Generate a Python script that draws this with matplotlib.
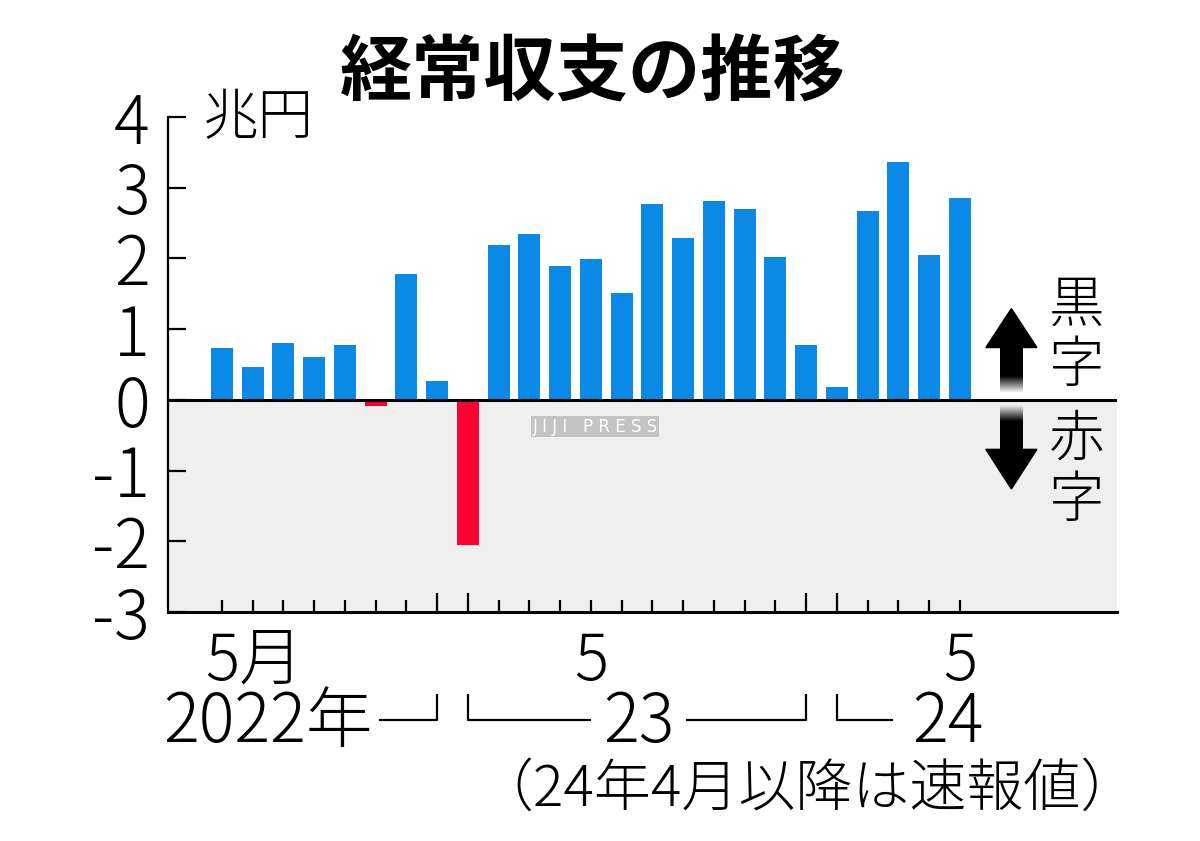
import numpy as np
import matplotlib
matplotlib.use("Agg")
import matplotlib.pyplot as plt
import matplotlib.transforms as mtransforms
from matplotlib.patches import Polygon

plt.rcParams['font.family'] = ['Noto Sans CJK JP', 'DejaVu Sans']

# ---- data (trillion yen), May 2022 .. May 2024 ----
months = ["2022-05", "2022-06", "2022-07", "2022-08", "2022-09", "2022-10", "2022-11", "2022-12",
          "2023-01", "2023-02", "2023-03", "2023-04", "2023-05", "2023-06", "2023-07", "2023-08",
          "2023-09", "2023-10", "2023-11", "2023-12", "2024-01", "2024-02", "2024-03", "2024-04",
          "2024-05"]
values = [0.74, 0.47, 0.81, 0.61, 0.78, -0.08, 1.78, 0.27,
          -2.05, 2.19, 2.35, 1.90, 1.99, 1.51, 2.77, 2.29,
          2.81, 2.70, 2.02, 0.78, 0.18, 2.67, 3.37, 2.05,
          2.85]
yticks = [-3, -2, -1, 0, 1, 2, 3, 4]
ytick_labels = ["-3", "-2", "-1", "0", "1", "2", "3", "4"]
month_label_idx = [0, 12, 24]
month_labels = ["5月", "5", "5"]
title = "経常収支の推移"
unit = "兆円"
note = "（24年4月以降は速報値）"

BLUE = "#0a89e6"
RED = "#ff0030"
GREY = "#efefef"

fig = plt.figure(figsize=(12, 8.41), dpi=100)
ax = fig.add_axes([168/1200, 1-612/841, (1117-168)/1200, (612-117)/841])

x = np.arange(len(values))
colors = [BLUE if v >= 0 else RED for v in values]
ax.bar(x, values, width=0.715, color=colors, zorder=3)

ax.set_xlim(-1.756, 29.11)
ax.set_ylim(-3, 4)
ax.axhspan(-3, 0, color=GREY, zorder=0, lw=0)
ax.axhline(0, color="black", lw=2.2, zorder=4)

for s in ["top", "right"]:
    ax.spines[s].set_visible(False)
ax.spines["left"].set_linewidth(1.6)
ax.spines["bottom"].set_linewidth(2.2)
ax.spines["left"].set_zorder(5)
ax.spines["bottom"].set_zorder(5)

ax.set_yticks(yticks)
ax.set_yticklabels(ytick_labels)
ax.tick_params(axis="y", direction="in", length=13, width=1.6, pad=13,
               labelsize=48)
for lab in ax.get_yticklabels():
    lab.set_fontweight("light")

long_idx = [7, 8, 19, 20]
normal_idx = [i for i in x if i not in long_idx]
ax.set_xticks(normal_idx)
ax.set_xticks(long_idx, minor=True)
ax.set_xticklabels([])
ax.tick_params(axis="x", which="major", direction="in", length=8.5, width=1.6)
ax.tick_params(axis="x", which="minor", direction="in", length=14, width=1.6)

# month labels and year labels
bt = mtransforms.blended_transform_factory(ax.transData, fig.transFigure)
def fy(px):
    return 1 - px / 841

for i, lab in zip(month_label_idx, month_labels):
    if lab == "5月":
        ax.text(i - 0.55, fy(680), lab, transform=bt, ha="left", va="baseline",
                fontsize=46, fontweight="light")
    else:
        ax.text(i, fy(680), lab, transform=bt, ha="center", va="baseline",
                fontsize=46, fontweight="light")

ax.text(4.9, fy(742), "2022年", transform=bt, ha="right", va="baseline",
        fontsize=48, fontweight="light")
ax.text(13.55, fy(742), "23", transform=bt, ha="center", va="baseline",
        fontsize=48, fontweight="light")
ax.text(23.6, fy(742), "24", transform=bt, ha="center", va="baseline",
        fontsize=48, fontweight="light")

def px2d(px):
    return (px - 222) / 30.75

bk = dict(color="black", lw=1.6, transform=bt, clip_on=False, solid_capstyle="butt")
ly, ty = fy(720), fy(694)
ax.plot([px2d(379), 7, 7], [ly, ly, ty], **bk)
ax.plot([8, 8, px2d(591)], [ty, ly, ly], **bk)
ax.plot([px2d(686), 19, 19], [ly, ly, ty], **bk)
ax.plot([20, 20, px2d(893)], [ty, ly, ly], **bk)

fig.text(1138/1200, fy(806), note, ha="right", va="baseline", fontsize=41,
         fontweight="light")

# title & unit
fig.text(593/1200, fy(74), title, ha="center", va="center", fontsize=52,
         fontweight="bold")
fig.text(258/1200, fy(118), unit, ha="center", va="center", fontsize=40,
         fontweight="light")

# arrows with gradient shafts
ax_c = px2d(1011.5)
hw = 0.83
sw = 0.37
up = Polygon([[ax_c - hw, 0.74], [ax_c, 1.29], [ax_c + hw, 0.74]], closed=True,
             color="black", zorder=6, clip_on=False)
dn = Polygon([[ax_c - hw, -0.70], [ax_c, -1.26], [ax_c + hw, -0.70]], closed=True,
             color="black", zorder=6, clip_on=False)
ax.add_patch(up)
ax.add_patch(dn)

n = 100
t = np.linspace(0, 1, n)
alpha_up = np.clip((t - 0.02) / 0.35, 0, 1)[:, None]  # bottom->top (origin lower)
img_up = np.zeros((n, 2, 4))
img_up[..., 3] = alpha_up
ax.imshow(img_up, extent=[ax_c - sw, ax_c + sw, 0.08, 0.75], origin="lower",
          aspect="auto", zorder=6, interpolation="bilinear")
alpha_dn = np.clip((t - 0.02) / 0.35, 0, 1)[::-1][:, None]
img_dn = np.zeros((n, 2, 4))
img_dn[..., 3] = alpha_dn
ax.imshow(img_dn, extent=[ax_c - sw, ax_c + sw, -0.71, -0.06], origin="lower",
          aspect="auto", zorder=6, interpolation="bilinear")
ax.set_xlim(-1.756, 29.11)
ax.set_ylim(-3, 4)

lx = px2d(1077)
ax.text(lx, 0.91, "黒\n字", ha="center", va="center", fontsize=40,
        fontweight="light", linespacing=1.05, zorder=7)
ax.text(lx, -0.99, "赤\n字", ha="center", va="center", fontsize=40,
        fontweight="light", linespacing=1.05, zorder=7)

# watermark
ax.text(px2d(595), -0.38, "J I J I   P R E S S", ha="center", va="center",
        fontsize=12, color="white", family="DejaVu Sans", zorder=2,
        bbox=dict(boxstyle="square,pad=0.1", fc="#c4c4c4", ec="none"))

fig.savefig("out.png", dpi=100)
